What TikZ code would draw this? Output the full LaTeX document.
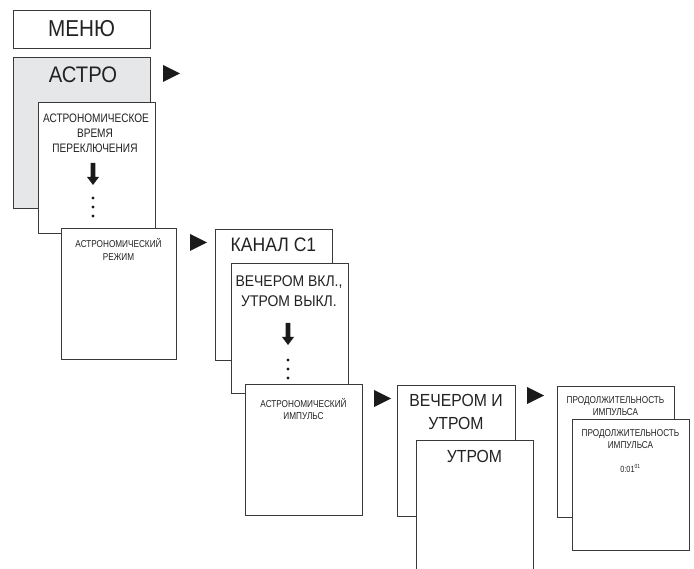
\documentclass[tikz,border=0pt]{standalone}
\usepackage{fontspec}
\setmainfont{Liberation Sans}
\newfontfamily\midf{Liberation Sans}[FakeStretch=0.9]
\newfontfamily\narrowf{Liberation Sans}[FakeStretch=0.82]

\definecolor{edgegray}{HTML}{3A3A3A}
\definecolor{astrofill}{HTML}{E6E7E8}
\definecolor{inkblack}{HTML}{1A1A1A}
\definecolor{textgray}{HTML}{222222}

% thick downward arrow: centre x, top y
\newcommand\dnarrow[2]{%
  \fill[inkblack] (#1-2.3,#2) -- (#1+2.3,#2) -- (#1+2.3,#2+14) -- (#1+6,#2+14)
    -- (#1,#2+22) -- (#1-6,#2+14) -- (#1-2.3,#2+14) -- cycle;}
% three stacked dots: centre x, first dot y
\newcommand\dotcolumn[2]{%
  \fill[inkblack] (#1,#2) circle (1.6pt) (#1,#2+9) circle (1.6pt) (#1,#2+18) circle (1.6pt);}
% play-style pointer: left x, top y
\newcommand\pointer[2]{%
  \fill[inkblack] (#1,#2) -- (#1,#2+17) -- (#1+17,#2+8.5) -- cycle;}

\begin{document}
\begin{tikzpicture}[x=1pt,y=-1pt,
  panel/.style={draw=edgegray, line width=1pt, fill=white, inner sep=0pt,
                anchor=north west},
  bigtxt/.style={anchor=base, inner sep=0pt, text=textgray, font=\midf\fontsize{23}{26}\selectfont},
  midtxt/.style={anchor=base, inner sep=0pt, text=textgray, font=\midf\fontsize{17.5}{20}\selectfont},
  smalltxt/.style={anchor=base, inner sep=0pt, text=textgray, font=\narrowf\fontsize{10}{12}\selectfont},
]
\useasboundingbox (0,0) rectangle (694,569);
\clip (0,0) rectangle (694,569);

% top level
\node[panel, minimum width=137pt, minimum height=38pt] (menu) at (13,10) {};
\node[bigtxt] (menut) at (81.5,37) {МЕНЮ};

\node[panel, fill=astrofill, minimum width=137pt, minimum height=151pt] (astro) at (13,57) {};
\node[bigtxt, font=\midf\fontsize{22.5}{26}\selectfont] (astrot) at (83,83) {АСТРО};
\pointer{163}{65}

% astronomical switching time
\node[panel, minimum width=117pt, minimum height=131pt] (swtime) at (38,102) {};
\node[smalltxt, font=\narrowf\fontsize{12.3}{14}\selectfont] (swtime1) at (96,123) {АСТРОНОМИЧЕСКОЕ};
\node[smalltxt, font=\narrowf\fontsize{12.3}{14}\selectfont] (swtime2) at (95,137.5) {ВРЕМЯ};
\node[smalltxt, font=\narrowf\fontsize{12.3}{14}\selectfont] (swtime3) at (95,152.5) {ПЕРЕКЛЮЧЕНИЯ};
\dnarrow{93}{163}
\dotcolumn{93}{198}

% astronomical mode
\node[panel, minimum width=115pt, minimum height=131pt] (mode) at (61,228) {};
\node[smalltxt] (mode1) at (118.5,248) {АСТРОНОМИЧЕСКИЙ};
\node[smalltxt] (mode2) at (118.5,261) {РЕЖИМ};
\pointer{190}{234}

% channel
\node[panel, minimum width=117pt, minimum height=131pt] (chan) at (215,229) {};
\node[midtxt, font=\midf\fontsize{19.5}{22}\selectfont] (chant) at (273.5,252) {КАНАЛ С1};

\node[panel, minimum width=117pt, minimum height=130pt] (evon) at (231,263) {};
\node[midtxt, font=\midf\fontsize{15.5}{18}\selectfont] (evon1) at (289,287) {ВЕЧЕРОМ ВКЛ.,};
\node[midtxt, font=\midf\fontsize{15.5}{18}\selectfont] (evon2) at (289,307) {УТРОМ ВЫКЛ.};
\dnarrow{288}{323}
\dotcolumn{288}{360}

% astronomical pulse
\node[panel, minimum width=117pt, minimum height=131pt] (pulse) at (245,384) {};
\node[smalltxt] (pulse1) at (303.5,408) {АСТРОНОМИЧЕСКИЙ};
\node[smalltxt] (pulse2) at (303.5,420) {ИМПУЛЬС};
\pointer{374}{390}

% evening and morning
\node[panel, minimum width=118pt, minimum height=131pt] (evmo) at (397,385) {};
\node[midtxt] (evmo1) at (456,407) {ВЕЧЕРОМ И};
\node[midtxt] (evmo2) at (456,430) {УТРОМ};

\node[panel, minimum width=117pt, minimum height=170pt] (morn) at (416,440) {};
\node[midtxt] (mornt) at (474.5,462) {УТРОМ};
\pointer{527}{387}

% pulse duration
\node[panel, minimum width=117pt, minimum height=131pt] (dur1) at (557,386) {};
\node[smalltxt] (dur1a) at (615.5,404) {ПРОДОЛЖИТЕЛЬНОСТЬ};
\node[smalltxt] (dur1b) at (615.5,416) {ИМПУЛЬСА};

\node[panel, minimum width=117pt, minimum height=131pt] (dur2) at (572,419) {};
\node[smalltxt] (dur2a) at (630.5,436.5) {ПРОДОЛЖИТЕЛЬНОСТЬ};
\node[smalltxt] (dur2b) at (630.5,449) {ИМПУЛЬСА};
\node[smalltxt, font=\narrowf\fontsize{9}{11}\selectfont] (dur2c) at (630.5,472) {0:01\textsuperscript{01}};
\end{tikzpicture}
\end{document}
